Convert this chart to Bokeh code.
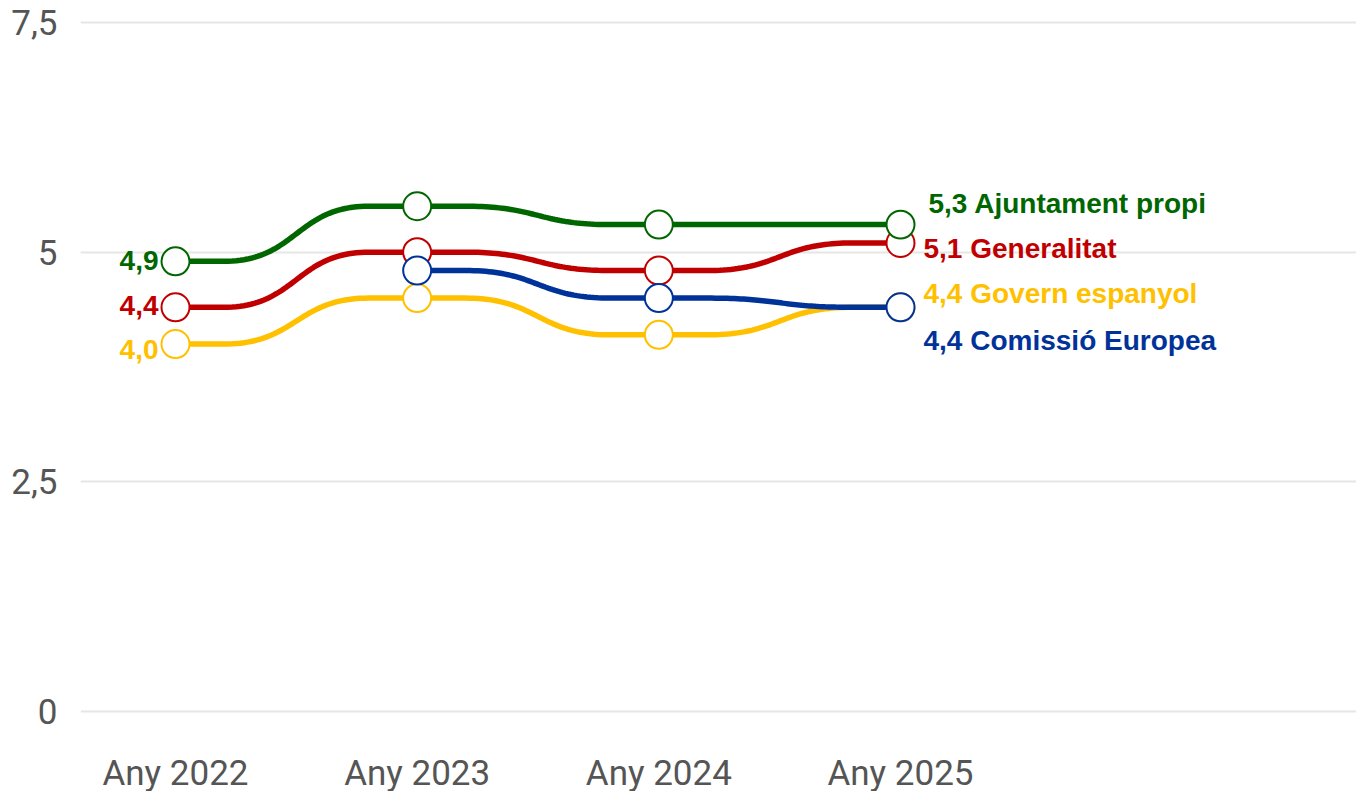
import numpy as np
from bokeh.plotting import figure
from bokeh.models import FixedTicker, Range1d
from bokeh.embed import file_html
from bokeh.resources import INLINE
from bokeh.core.properties import value

# ---- data ----
years = ["Any 2022", "Any 2023", "Any 2024", "Any 2025"]
series_names = ["Ajuntament propi", "Generalitat", "Govern espanyol", "Comissió Europea"]
ajuntament = [4.9, 5.5, 5.3, 5.3]
generalitat = [4.4, 5.0, 4.8, 5.1]
govern = [4.0, 4.5, 4.1, 4.4]
comissio = [None, 4.8, 4.5, 4.4]
colors = ["#006600", "#c00000", "#ffc000", "#003399"]
y_ticks = [0, 2.5, 5, 7.5]
y_tick_labels = ["0", "2,5", "5", "7,5"]

values = [ajuntament, generalitat, govern, comissio]
xs = list(range(len(years)))

# ---- styling (pixel offsets for end labels, drawing order) ----
right_offsets = {  # (x_offset, y_offset) in screen px
    "Ajuntament propi": (28, -21),
    "Generalitat": (23, 6),
    "Govern espanyol": (23, -14),
    "Comissió Europea": (23, 33),
}
left_offsets = {"Ajuntament propi": -1, "Generalitat": -2, "Govern espanyol": 5}
draw_order = [2, 1, 0, 3]

LABEL_FONT = "Liberation Sans"
TICK_FONT = "Roboto"


def fmt(v):
    return f"{v:.1f}".replace(".", ",")


def smooth_path(xv, yv, n=50):
    pts = [(x, y) for x, y in zip(xv, yv) if y is not None]
    px, py = [], []
    t = np.linspace(0, 1, n)
    for (x0, y0), (x1, y1) in zip(pts[:-1], pts[1:]):
        d = x1 - x0
        a, b = x0 + 0.2 * d, x0 + 0.8 * d
        m = (a + b) / 2
        bx = (1 - t) ** 3 * a + 3 * (1 - t) ** 2 * t * m + 3 * (1 - t) * t ** 2 * m + t ** 3 * b
        by = (1 - t) ** 3 * y0 + 3 * (1 - t) ** 2 * t * y0 + 3 * (1 - t) * t ** 2 * y1 + t ** 3 * y1
        px += [x0] + list(bx)
        py += [y0] + list(by)
    px.append(pts[-1][0])
    py.append(pts[-1][1])
    return px, py


px_per_x = 241.67
px_per_y = 689 / 7.5
frame_w, frame_h = 1276, 709
x_start = -95 / px_per_x
y_start = -10 / px_per_y

p = figure(
    frame_width=frame_w, frame_height=frame_h,
    x_range=Range1d(x_start, x_start + frame_w / px_per_x),
    y_range=Range1d(y_start, y_start + frame_h / px_per_y),
    output_backend="svg", toolbar_location=None,
    min_border_left=80, min_border_right=0, min_border_top=12, min_border_bottom=0,
)
p.outline_line_color = None
p.background_fill_color = "white"
p.border_fill_color = "white"

p.xgrid.grid_line_color = None
p.ygrid.grid_line_color = "#e6e6e6"
p.ygrid.grid_line_width = 2
p.ygrid.ticker = FixedTicker(ticks=y_ticks)

p.yaxis.ticker = FixedTicker(ticks=y_ticks)
p.yaxis.major_label_overrides = {t: l for t, l in zip(y_ticks, y_tick_labels)}
p.xaxis.ticker = FixedTicker(ticks=xs)
p.xaxis.major_label_overrides = {x: y for x, y in zip(xs, years)}
for ax in (p.xaxis, p.yaxis):
    ax.axis_line_color = None
    ax.major_tick_line_color = None
    ax.minor_tick_line_color = None
    ax.major_label_text_font = TICK_FONT
    ax.major_label_text_font_size = "35px"
    ax.major_label_text_color = "#555555"
p.yaxis.major_label_standoff = 17
p.xaxis.major_label_standoff = 25

for i in draw_order:
    name, vals, col = series_names[i], values[i], colors[i]
    lx, ly = smooth_path(xs, vals)
    p.line(lx, ly, line_color=col, line_width=5.5)
    cx = [x for x, v in zip(xs, vals) if v is not None]
    cy = [v for v in vals if v is not None]
    p.scatter(cx, cy, size=28, fill_color="white", line_color=col, line_width=2)

# left labels (first year)
for i, name in enumerate(series_names):
    v = values[i][0]
    if v is None:
        continue
    p.text([xs[0]], [v], text=[fmt(v)], text_font=value(LABEL_FONT),
           text_font_style="bold", text_font_size="28px", text_color=colors[i],
           text_align="right", text_baseline="middle",
           x_offset=-17, y_offset=left_offsets[name])

# right labels (last year)
for i, name in enumerate(series_names):
    v = values[i][-1]
    xo, yo = right_offsets[name]
    p.text([xs[-1]], [v], text=[f"{fmt(v)} {name}"], text_font=value(LABEL_FONT),
           text_font_style="bold", text_font_size="28px", text_color=colors[i],
           text_align="left", text_baseline="middle",
           x_offset=xo, y_offset=yo)

open("out.html", "w").write(file_html(p, INLINE))
